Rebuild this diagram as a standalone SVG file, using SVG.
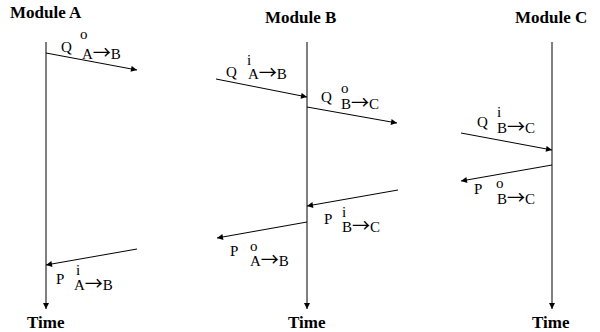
<svg xmlns="http://www.w3.org/2000/svg" width="600" height="332" viewBox="0 0 600 332">
<defs>
<marker id="ah" viewBox="0 0 10 10" refX="10" refY="5" markerWidth="7" markerHeight="6" markerUnits="userSpaceOnUse" orient="auto">
<path d="M0,0 L10,5 L0,10 z" fill="#000"/>
</marker>
</defs>
<rect width="600" height="332" fill="#fff"/>
<g id="moduleA">
<text x="10" y="18" font-family="'Liberation Serif'" font-size="17" font-weight="bold">Module A</text>
<text x="27" y="328" font-family="'Liberation Serif'" font-size="17" font-weight="bold">Time</text>
</g>
<g id="moduleB">
<text x="265" y="23" font-family="'Liberation Serif'" font-size="17" font-weight="bold">Module B</text>
<text x="288" y="328" font-family="'Liberation Serif'" font-size="17" font-weight="bold">Time</text>
</g>
<g id="moduleC">
<text x="515" y="23" font-family="'Liberation Serif'" font-size="17" font-weight="bold">Module C</text>
<text x="532" y="328" font-family="'Liberation Serif'" font-size="17" font-weight="bold">Time</text>
</g>
<g id="connectors" stroke="#000" stroke-width="1" fill="none" marker-end="url(#ah)">
<line x1="46" y1="42" x2="46" y2="309"/>
<line x1="307" y1="42" x2="307" y2="309"/>
<line x1="552" y1="42" x2="552" y2="309"/>
<line x1="46" y1="53" x2="137" y2="70"/>
<line x1="216" y1="79" x2="307" y2="97"/>
<line x1="307" y1="107" x2="397" y2="123"/>
<line x1="461" y1="133" x2="552" y2="150"/>
<line x1="552" y1="165" x2="461" y2="181"/>
<line x1="398" y1="190" x2="307" y2="206"/>
<line x1="307" y1="222" x2="217" y2="238"/>
<line x1="137" y1="249" x2="46" y2="265"/>
</g>
<g id="labels">
<text x="61" y="52" font-family="'Liberation Serif'" font-size="15">Q</text><text x="80" y="39" font-family="'Liberation Serif'" font-size="15">o</text><text x="82" y="59" font-family="'Liberation Serif'" font-size="15">A<tspan font-family="'Noto Sans CJK JP'" font-size="18">→</tspan>B</text>
<text x="226" y="77" font-family="'Liberation Serif'" font-size="15">Q</text><text x="247" y="65" font-family="'Liberation Serif'" font-size="15">i</text><text x="248" y="79" font-family="'Liberation Serif'" font-size="15">A<tspan font-family="'Noto Sans CJK JP'" font-size="18">→</tspan>B</text>
<text x="321" y="102" font-family="'Liberation Serif'" font-size="15">Q</text><text x="341" y="93" font-family="'Liberation Serif'" font-size="15">o</text><text x="341" y="109" font-family="'Liberation Serif'" font-size="15">B<tspan font-family="'Noto Sans CJK JP'" font-size="18">→</tspan>C</text>
<text x="477" y="127" font-family="'Liberation Serif'" font-size="15">Q</text><text x="497" y="117" font-family="'Liberation Serif'" font-size="15">i</text><text x="497" y="133" font-family="'Liberation Serif'" font-size="15">B<tspan font-family="'Noto Sans CJK JP'" font-size="18">→</tspan>C</text>
<text x="474" y="194" font-family="'Liberation Serif'" font-size="15">P</text><text x="496" y="188" font-family="'Liberation Serif'" font-size="15">o</text><text x="497" y="204" font-family="'Liberation Serif'" font-size="15">B<tspan font-family="'Noto Sans CJK JP'" font-size="18">→</tspan>C</text>
<text x="324" y="224" font-family="'Liberation Serif'" font-size="15">P</text><text x="342" y="217" font-family="'Liberation Serif'" font-size="15">i</text><text x="342" y="232" font-family="'Liberation Serif'" font-size="15">B<tspan font-family="'Noto Sans CJK JP'" font-size="18">→</tspan>C</text>
<text x="230" y="256" font-family="'Liberation Serif'" font-size="15">P</text><text x="250" y="251" font-family="'Liberation Serif'" font-size="15">o</text><text x="250" y="266" font-family="'Liberation Serif'" font-size="15">A<tspan font-family="'Noto Sans CJK JP'" font-size="18">→</tspan>B</text>
<text x="56" y="284" font-family="'Liberation Serif'" font-size="15">P</text><text x="76" y="275" font-family="'Liberation Serif'" font-size="15">i</text><text x="74" y="290" font-family="'Liberation Serif'" font-size="15">A<tspan font-family="'Noto Sans CJK JP'" font-size="18">→</tspan>B</text>
</g>
</svg>
